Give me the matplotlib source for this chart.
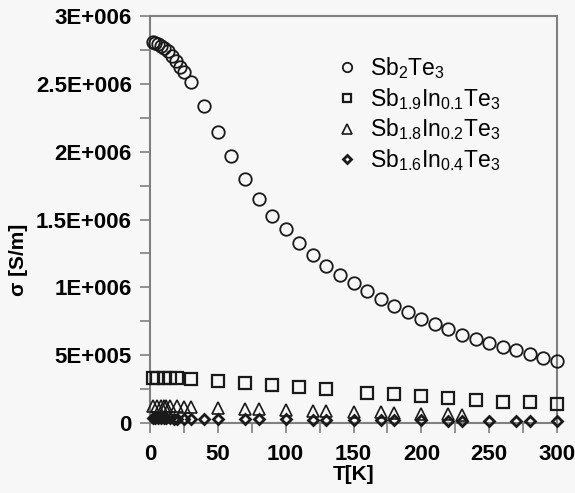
import matplotlib
matplotlib.use('Agg')
import matplotlib.pyplot as plt
from matplotlib.ticker import MultipleLocator

plt.rcParams['font.family'] = ['Liberation Sans', 'DejaVu Sans']
plt.rcParams['mathtext.fontset'] = 'custom'
plt.rcParams['mathtext.rm'] = 'Liberation Sans'
plt.rcParams['mathtext.it'] = 'Liberation Sans:italic'
plt.rcParams['mathtext.bf'] = 'Liberation Sans:bold'

# ---------------- data ----------------
# Sb2Te3
T_a = [2, 4, 6, 8, 10, 13, 16, 19, 22, 25, 30,
       40, 50, 60, 70, 80, 90, 100, 110, 120, 130,
       140, 150, 160, 170, 180, 190, 200, 210, 220, 230,
       240, 250, 260, 270, 280, 290, 300]
s_a = [2.805e6, 2.800e6, 2.790e6, 2.780e6, 2.765e6, 2.740e6, 2.705e6, 2.670e6, 2.625e6, 2.585e6, 2.515e6,
       2.340e6, 2.145e6, 1.965e6, 1.800e6, 1.650e6, 1.525e6, 1.430e6, 1.325e6, 1.240e6, 1.160e6,
       1.090e6, 1.030e6, 0.970e6, 0.915e6, 0.860e6, 0.815e6, 0.770e6, 0.730e6, 0.690e6, 0.650e6,
       0.620e6, 0.590e6, 0.560e6, 0.535e6, 0.505e6, 0.480e6, 0.455e6]

# Sb1.9In0.1Te3
T_b = [2, 5, 10, 15, 20, 30, 50, 70, 90, 110, 130, 160, 180, 200, 220, 240, 260, 280, 300]
s_b = [0.335e6, 0.335e6, 0.333e6, 0.332e6, 0.330e6, 0.325e6, 0.313e6, 0.293e6, 0.281e6, 0.264e6,
       0.249e6, 0.224e6, 0.214e6, 0.198e6, 0.182e6, 0.170e6, 0.157e6, 0.152e6, 0.138e6]

# Sb1.8In0.2Te3
T_c = [2, 5, 8, 10, 12, 15, 20, 25, 30, 50, 70, 80, 100, 120, 130, 150, 170, 180, 200, 220, 230]
s_c = [0.125e6, 0.125e6, 0.125e6, 0.124e6, 0.124e6, 0.123e6, 0.122e6, 0.120e6, 0.118e6, 0.112e6,
       0.105e6, 0.100e6, 0.095e6, 0.090e6, 0.088e6, 0.082e6, 0.078e6, 0.075e6, 0.068e6, 0.063e6, 0.060e6]

# Sb1.6In0.4Te3
T_d = [2, 4, 6, 8, 10, 12, 15, 18, 20, 25, 30, 40, 50, 70, 80, 100, 120, 130, 150, 170, 180,
       200, 220, 230, 250, 270, 280, 300]
s_d = [0.036e6, 0.036e6, 0.035e6, 0.035e6, 0.035e6, 0.034e6, 0.034e6, 0.033e6, 0.033e6, 0.032e6,
       0.031e6, 0.030e6, 0.030e6, 0.028e6, 0.027e6, 0.026e6, 0.024e6, 0.024e6, 0.022e6, 0.021e6,
       0.020e6, 0.019e6, 0.018e6, 0.018e6, 0.017e6, 0.016e6, 0.016e6, 0.015e6]

labels = [r'Sb$_{\mathrm{2}}$Te$_{\mathrm{3}}$',
          r'Sb$_{\mathrm{1.9}}$In$_{\mathrm{0.1}}$Te$_{\mathrm{3}}$',
          r'Sb$_{\mathrm{1.8}}$In$_{\mathrm{0.2}}$Te$_{\mathrm{3}}$',
          r'Sb$_{\mathrm{1.6}}$In$_{\mathrm{0.4}}$Te$_{\mathrm{3}}$']

x_ticks = [0, 50, 100, 150, 200, 250, 300]
y_ticks = [0, 5e5, 1e6, 1.5e6, 2e6, 2.5e6, 3e6]
y_tick_labels = ['0', '5E+005', '1E+006', '1.5E+006', '2E+006', '2.5E+006', '3E+006']

# ---------------- figure ----------------
bg = '#f7f7f7'
fig = plt.figure(figsize=(5.75, 4.93), dpi=100, facecolor=bg)
ax = fig.add_axes([150/575, 1-423/493, 407/575, 407/493], facecolor=bg)

ec = '#1a1a1a'
ax.plot(T_a, s_a, 'o', ms=9, mfc='none', mec=ec, mew=1.3, label=labels[0], clip_on=False, zorder=3)
ax.plot(T_b, s_b, 's', ms=8.5, mfc='none', mec=ec, mew=1.6, label=labels[1], clip_on=False, zorder=3)
ax.plot(T_c, s_c, '^', ms=9, mfc='none', mec=ec, mew=1.2, label=labels[2], clip_on=False, zorder=3)
ax.plot(T_d, s_d, 'D', ms=5, mfc='none', mec=ec, mew=2.0, label=labels[3], clip_on=False, zorder=4)

ax.set_xlim(0, 300)
ax.set_ylim(0, 3e6)
ax.set_xticks(x_ticks)
ax.set_xticklabels([str(t) for t in x_ticks])
ax.xaxis.set_minor_locator(MultipleLocator(25))
ax.set_yticks(y_ticks)
ax.set_yticklabels(y_tick_labels)
ax.yaxis.set_minor_locator(MultipleLocator(2.5e5))

spine_c = '#808080'
for s in ax.spines.values():
    s.set_color(spine_c)
    s.set_linewidth(1.5)

ax.tick_params(axis='both', which='both', direction='out', length=7, width=1.2, color=spine_c)
ax.tick_params(axis='y', which='major', pad=6, labelsize=16)
ax.tick_params(axis='x', which='major', pad=8, labelsize=16)
for lab in ax.get_xticklabels() + ax.get_yticklabels():
    lab.set_fontweight('bold')

ax.set_xlabel('T[K]', fontsize=15, fontweight='bold', labelpad=0)
ax.set_ylabel('σ [S/m]', fontsize=15, fontweight='bold')
ax.yaxis.set_label_coords(-0.30, 0.40)

leg = ax.legend(loc='upper left', bbox_to_anchor=(0.457, 0.905), frameon=False,
                fontsize=16.5, handlelength=1.0, handletextpad=0.5, labelspacing=0.22,
                borderaxespad=0, borderpad=0, markerscale=0.75)

fig.savefig('out.png', dpi=100, facecolor=bg)
